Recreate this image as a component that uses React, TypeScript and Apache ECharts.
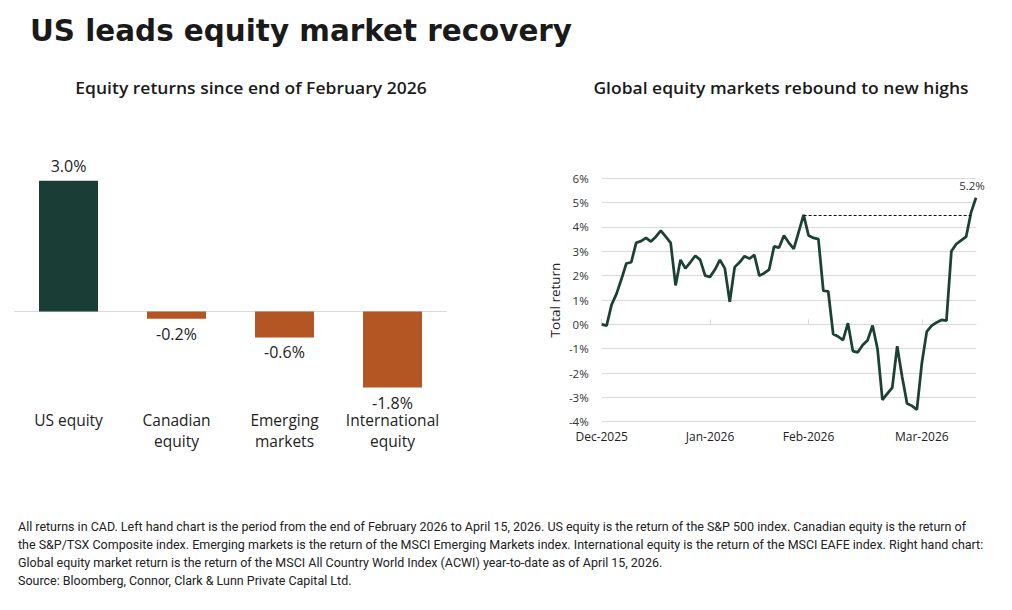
import React, { useEffect, useRef } from "react";
import * as echarts from "echarts";

// Left chart: equity returns since end of February 2026 (%)
const barCategories = ["US equity", "Canadian\nequity", "Emerging\nmarkets", "International\nequity"];
const barValues = [3.02, -0.17, -0.6, -1.76];
const barColors = ["#1a3d35", "#b45623", "#b45623", "#b45623"];

// Right chart: global equity total return (%), one point per trading day
const lineValues = [
  0.0, -0.05, 0.8, 1.25, 1.85, 2.5, 2.55, 3.35, 3.42, 3.55,
  3.4, 3.6, 3.85, 3.6, 3.35, 1.6, 2.65, 2.3, 2.55, 2.82,
  2.65, 2.0, 1.95, 2.25, 2.65, 2.3, 0.93, 2.35, 2.55, 2.8,
  2.7, 2.85, 2.0, 2.1, 2.25, 3.2, 3.15, 3.65, 3.35, 3.1,
  3.8, 4.5, 3.65, 3.55, 3.5, 1.38, 1.35, -0.4, -0.5, -0.65,
  0.05, -1.1, -1.15, -0.85, -0.65, -0.05, -1.0, -3.1, -2.85, -2.6,
  -0.9, -2.15, -3.25, -3.35, -3.5, -1.6, -0.3, -0.05, 0.08, 0.18,
  0.15, 3.0, 3.3, 3.45, 3.6, 4.6, 5.2,
];
const monthLabels = ["Dec-2025", "Jan-2026", "Feb-2026", "Mar-2026"];
const monthStartIdx = [0, 22, 42, 65];
const yTicks = [-4, -3, -2, -1, 0, 1, 2, 3, 4, 5, 6];

const footnoteLines = [
  "All returns in CAD. Left hand chart is the period from the end of February 2026 to April 15, 2026. US equity is the return of the S&P 500 index. Canadian equity is the return of",
  "the S&P/TSX Composite index. Emerging markets is the return of the MSCI Emerging Markets index. International equity is the return of the MSCI EAFE index. Right hand chart:",
  "Global equity market return is the return of the MSCI All Country World Index (ACWI) year-to-date as of April 15, 2026.",
  "Source: Bloomberg, Connor, Clark & Lunn Private Capital Ltd.",
];

const FONT = '"Open Sans", "Noto Sans", sans-serif';

export default function App() {
  const ref = useRef<HTMLDivElement>(null);
  useEffect(() => {
    if (!ref.current) return;
    const chart = echarts.init(ref.current, null, { renderer: "svg" });
    const lineCats = lineValues.map((_, i) => String(i));
    const isMonth = (i: number) => monthStartIdx.indexOf(i) >= 0;
    let peakIdx = 0;
    for (let i = 0; i < 60; i++) if (lineValues[i] > lineValues[peakIdx]) peakIdx = i;
    const peak = lineValues[peakIdx];
    let crossIdx = lineValues.length - 1;
    for (let i = peakIdx + 1; i < lineValues.length; i++) {
      if (lineValues[i] >= peak) { crossIdx = i; break; }
    }
    const last = lineValues.length - 1;

    const graphic: any[] = [
      {
        type: "text", x: 30, y: 31,
        style: { text: "US leads equity market recovery", font: 'bold 29.4px "DejaVu Sans", Verdana, sans-serif', fill: "#1a1a1a", verticalAlign: "middle" },
      },
      {
        type: "text", x: 251, y: 88, scaleX: 1.06,
        style: { text: "Equity returns since end of February 2026", font: `600 16.5px ${FONT}`, fill: "#1a1a1a", align: "center", verticalAlign: "middle" },
      },
      {
        type: "text", x: 781, y: 88, scaleX: 1.06,
        style: { text: "Global equity markets rebound to new highs", font: `600 16.5px ${FONT}`, fill: "#1a1a1a", align: "center", verticalAlign: "middle" },
      },
    ];
    footnoteLines.forEach((t, i) => {
      graphic.push({
        type: "text", x: 18, y: 526 + i * 18, scaleX: 0.96,
        style: { text: t, font: '13px Roboto, sans-serif', fill: "#222", verticalAlign: "middle" },
      });
    });

    chart.setOption({
      animation: false,
      textStyle: { fontFamily: FONT },
      graphic,
      grid: [
        { left: 14.5, width: 432, top: 160, height: 238 },
        { left: 601.7, right: 36, top: 178.3, height: 243.4 },
      ],
      xAxis: [
        {
          type: "category", gridIndex: 0, data: barCategories, position: "bottom",
          axisLine: { show: false, onZero: false }, axisTick: { show: false },
          axisLabel: { fontSize: 15.5, color: "#222", lineHeight: 21, margin: 11, interval: 0 },
        },
        {
          type: "category", gridIndex: 0, data: barCategories,
          axisLine: { show: true, onZero: true, lineStyle: { color: "#d9d9d9", width: 1 } },
          axisTick: { show: false }, axisLabel: { show: false },
        },
        {
          type: "category", gridIndex: 1, data: lineCats, boundaryGap: false, position: "bottom",
          axisLine: { show: false, onZero: false }, axisTick: { show: false },
          axisLabel: {
            fontSize: 12, color: "#222", margin: 9,
            interval: (i: number) => isMonth(i),
            formatter: (_v: string, i: number) => monthLabels[monthStartIdx.indexOf(i)] || "",
          },
        },
        {
          type: "category", gridIndex: 1, data: lineCats, boundaryGap: false,
          axisLine: { show: true, onZero: true, lineStyle: { color: "#d9d9d9", width: 1 } },
          axisTick: { show: true, interval: (i: number) => isMonth(i), length: 5, lineStyle: { color: "#d9d9d9" } },
          axisLabel: { show: false },
        },
      ],
      yAxis: [
        {
          type: "value", gridIndex: 0, min: -2, max: 3.5,
          axisLabel: { show: false }, splitLine: { show: false }, axisLine: { show: false }, axisTick: { show: false },
        },
        {
          type: "value", gridIndex: 1, min: yTicks[0], max: yTicks[yTicks.length - 1], interval: 1,
          axisLabel: { formatter: "{value}%", fontSize: 11.5, color: "#333", margin: 13 },
          splitLine: { lineStyle: { color: "#d9d9d9", width: 1 } },
          axisLine: { show: false }, axisTick: { show: false },
          name: "Total return", nameLocation: "middle", nameGap: 40,
          nameTextStyle: { fontSize: 13.5, color: "#222" },
        },
      ],
      series: [
        {
          type: "bar", xAxisIndex: 0, yAxisIndex: 0, barWidth: 59,
          data: barValues.map((v, i) => ({
            value: v,
            itemStyle: { color: barColors[i] },
            label: { position: v < 0 ? "bottom" : "top" },
          })),
          label: {
            show: true, distance: 7, fontSize: 16, color: "#222",
            formatter: (p: any) => p.value.toFixed(1) + "%",
          },
        },
        {
          type: "line", xAxisIndex: 2, yAxisIndex: 1, data: lineValues,
          symbol: "none", lineStyle: { color: "#1b4035", width: 2.75 },
          markLine: {
            silent: true, symbol: ["none", "none"], label: { show: false },
            lineStyle: { type: [3, 2], color: "#111", width: 1 },
            data: [[{ coord: [lineCats[peakIdx], peak] }, { coord: [lineCats[crossIdx], peak] }]],
          },
          markPoint: {
            silent: true, symbol: "circle", symbolSize: 0,
            label: { show: true, position: "top", distance: 6, offset: [-4, 0], fontSize: 11.5, color: "#333", formatter: (p: any) => p.value.toFixed(1) + "%" },
            data: [{ coord: [lineCats[last], lineValues[last]], value: lineValues[last] }],
          },
        },
      ],
    });
    return () => chart.dispose();
  }, []);
  return (
    <div
      ref={ref}
      style={{ position: "fixed", left: 0, top: 0, width: 1012, height: 610, background: "#fff" }}
    />
  );
}
